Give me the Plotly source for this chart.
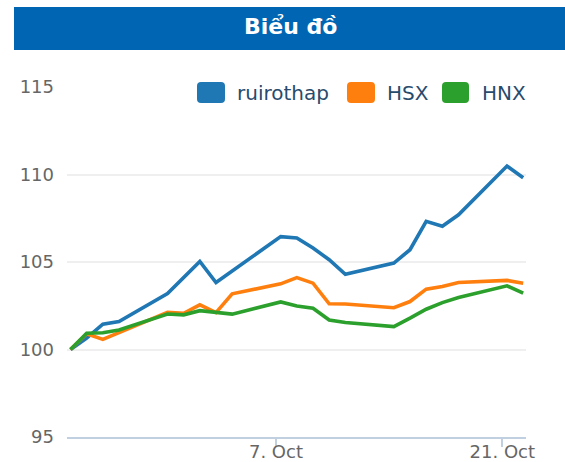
import pandas as pd
import plotly.graph_objects as go

# ---- data ----
dates = ["2013-09-24", "2013-09-25", "2013-09-26", "2013-09-27", "2013-09-30",
         "2013-10-01", "2013-10-02", "2013-10-03", "2013-10-04", "2013-10-07",
         "2013-10-08", "2013-10-09", "2013-10-10", "2013-10-11", "2013-10-14",
         "2013-10-15", "2013-10-16", "2013-10-17", "2013-10-18", "2013-10-21",
         "2013-10-22"]
ruirothap = [100.0, 100.65, 101.45, 101.6, 103.2, 104.1, 105.03, 103.83, 104.5, 106.45,
             106.37, 105.8, 105.13, 104.3, 104.94, 105.7, 107.32, 107.04, 107.7, 110.48,
             109.81]
hsx = [100.0, 100.9, 100.58, 100.96, 102.13, 102.07, 102.55, 102.11, 103.18, 103.75,
       104.11, 103.79, 102.61, 102.6, 102.39, 102.74, 103.45, 103.6, 103.83, 103.95,
       103.79]
hnx = [100.0, 100.93, 100.96, 101.12, 102.03, 101.98, 102.22, 102.11, 102.02, 102.72,
       102.49, 102.36, 101.69, 101.54, 101.31, 101.79, 102.3, 102.68, 102.97, 103.64,
       103.22]
series_names = ["ruirothap", "HSX", "HNX"]
series_colors = ["#1f77b4", "#ff7f0e", "#2ca02c"]
tick_dates = ["2013-10-07", "2013-10-21"]
tick_labels = ["7. Oct", "21. Oct"]
title_text = "Biểu đồ"

# timestamps carry a timezone offset in the source
x = pd.to_datetime(dates) + pd.Timedelta(hours=7)

W, H = 565, 462
L, R, T, B = 67, 39, 87, 25
PW, PH = W - L - R, H - T - B


def px(xp):
    return (xp - L) / PW


def py(yp):
    return (H - B - yp) / PH


def rounded_rect(x0, y0, x1, y1, r):
    def P(a, b):
        return f"{px(a):.5f},{py(b):.5f}"
    return (f"M {P(x0 + r, y0)} L {P(x1 - r, y0)} Q {P(x1, y0)} {P(x1, y0 + r)} "
            f"L {P(x1, y1 - r)} Q {P(x1, y1)} {P(x1 - r, y1)} "
            f"L {P(x0 + r, y1)} Q {P(x0, y1)} {P(x0, y1 - r)} "
            f"L {P(x0, y0 + r)} Q {P(x0, y0)} {P(x0 + r, y0)} Z")


fig = go.Figure()
for name, vals, col in zip(series_names, [ruirothap, hsx, hnx], series_colors):
    fig.add_trace(go.Scatter(x=x, y=vals, mode="lines", name=name,
                             line=dict(color=col, width=3.6), showlegend=False))

shapes = [
    dict(type="rect", xref="paper", yref="paper",
         x0=px(14), x1=px(570), y0=py(50), y1=py(7),
         fillcolor="#0066b3", line=dict(width=0), layer="above"),
]
annotations = [
    dict(text=f"<b>{title_text}</b>", xref="paper", yref="paper",
         x=px(290), y=py(27), xanchor="center", yanchor="middle", showarrow=False,
         font=dict(family="DejaVu Sans", size=22, color="white")),
]

legend_rects = [(197, 225), (347, 375), (442, 469)]
legend_text_x = [235, 385, 480]
for (a, b), tx, name, col in zip(legend_rects, legend_text_x, series_names, series_colors):
    shapes.append(dict(type="path", xref="paper", yref="paper",
                       path=rounded_rect(a, 82, b, 103, 4),
                       fillcolor=col, line=dict(width=0), layer="above"))
    annotations.append(dict(text=name, xref="paper", yref="paper",
                            x=px(tx), y=py(93), xanchor="left", yanchor="middle",
                            showarrow=False,
                            font=dict(family="DejaVu Sans", size=20, color="#274b6d")))

tickx = pd.to_datetime(tick_dates)
fig.update_layout(
    width=W, height=H,
    margin=dict(l=L, r=R, t=T, b=B, pad=0, autoexpand=False),
    paper_bgcolor="white", plot_bgcolor="white",
    shapes=shapes, annotations=annotations,
    font=dict(family="DejaVu Sans", size=18, color="#666666"),
    xaxis=dict(type="date", range=["2013-09-24 01:48", "2013-10-22 11:11"],
               tickmode="array", tickvals=tickx, ticktext=tick_labels,
               ticks="", ticklabelstandoff=-3,
               minor=dict(tickmode="array", tickvals=tickx, ticks="outside",
                          ticklen=8, tickwidth=2, tickcolor="#c0d0e0", showgrid=False),
               showline=True, linecolor="#c0d0e0", linewidth=2,
               showgrid=False, zeroline=False, automargin=False,
               tickfont=dict(family="DejaVu Sans", size=18, color="#666666")),
    yaxis=dict(range=[95, 115], tickvals=[95, 100, 105, 110, 115],
               showgrid=True, gridcolor="#efefef", gridwidth=2, zeroline=False,
               ticks="", ticklabelstandoff=12, automargin=False,
               tickfont=dict(family="DejaVu Sans", size=18, color="#666666")),
)

fig.write_html("out.html")
